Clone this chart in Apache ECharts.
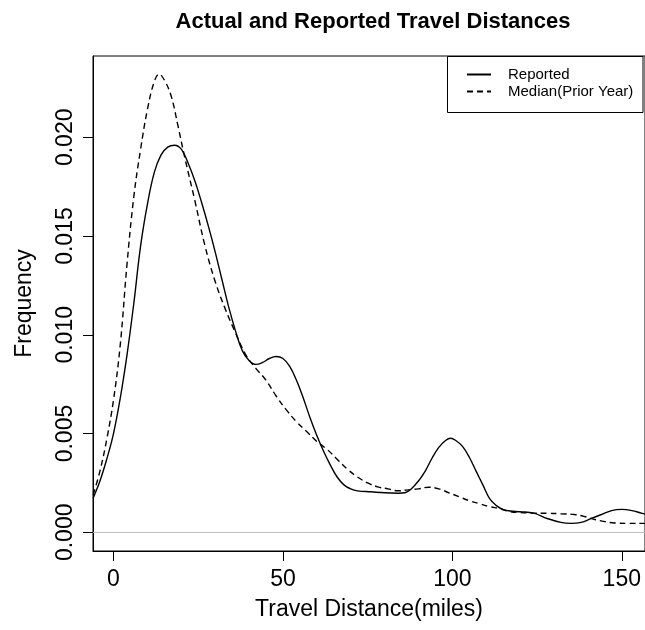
<!DOCTYPE html>
<html>
<head>
<meta charset="utf-8">
<script src="https://cdn.jsdelivr.net/npm/echarts@6/dist/echarts.min.js"></script>
<style>html,body{margin:0;padding:0;background:#fff}#c{width:645px;height:630px}</style>
</head>
<body>
<div id="c"></div>
<script>
const titleText = 'Actual and Reported Travel Distances';
const xName = 'Travel Distance(miles)';
const yName = 'Frequency';
const xTicks = [0, 50, 100, 150];
const yTicks = [0, 0.005, 0.010, 0.015, 0.020];
const seriesNames = ['Reported', 'Median(Prior Year)'];

const reportedX = [-6,-4,-2,0,2,4,6,8,10,12,14,16,18,20,22,24,26,28,30,32,34,36,38,40,42,44,46,48,50,52,54,56,58,60,62,64,66,68,70,72,76,80,84,86,88,90,92,94,96,98,99.5,101,103,105,107,109,111,113,115,117,120,124,128,132,135,138,141,144,147,150,153,156,158];
const reportedY = [0.00174,0.0026,0.0037,0.0050,0.0068,0.0090,0.0116,0.0145,0.0166,0.0182,0.0191,0.0195,0.0196,0.0194,0.0187,0.0178,0.0167,0.0155,0.0142,0.0128,0.0114,0.0102,0.0092,0.0087,0.0085,0.0086,0.0088,0.0089,0.0088,0.0084,0.0077,0.0068,0.0058,0.0049,0.0041,0.0034,0.0028,0.0024,0.0022,0.0021,0.00205,0.0020,0.00198,0.0020,0.00222,0.0026,0.0031,0.00375,0.0043,0.00465,0.00476,0.00465,0.00435,0.0038,0.0031,0.0024,0.0017,0.00135,0.00115,0.00108,0.00104,0.00097,0.0007,0.0005,0.00045,0.0005,0.0007,0.0009,0.0011,0.00116,0.0011,0.00096,0.0009];

const medianX = [-6,-4,-2,0,2,4,6,8,10,12,13.5,15,17,19,21,24,27,30,33,36,39,42,45,48,51,54,57,60,63,66,69,72,75,78,81,84,87,90,93,96,99,102,105,108,111,114,117,120,124,128,132,136,139,142,145,148,152,156,158];
const medianY = [0.0019,0.0031,0.0047,0.0067,0.0095,0.0136,0.0170,0.0194,0.0214,0.0228,0.0232,0.0229,0.0221,0.0206,0.0190,0.0168,0.0145,0.0127,0.0113,0.0101,0.0090,0.0083,0.0077,0.0069,0.0062,0.0056,0.0051,0.0046,0.0042,0.0037,0.0032,0.0028,0.0025,0.0023,0.0022,0.0021,0.00215,0.0022,0.00228,0.0022,0.0020,0.0018,0.0016,0.00145,0.0013,0.0012,0.00105,0.0010,0.00097,0.00096,0.00094,0.0009,0.0008,0.00065,0.00054,0.00047,0.00045,0.00045,0.00045];

const FONT = 'Liberation Sans';
const chart = echarts.init(document.getElementById('c'), null, {renderer: 'canvas'});
const pairs = (xs, ys) => xs.map((x, i) => [x, ys[i]]);

chart.setOption({
  animation: false,
  backgroundColor: '#fff',
  title: {
    text: titleText, left: 368, top: 6, textAlign: 'center',
    textStyle: {fontFamily: FONT, fontWeight: 'bold', fontSize: 22, color: '#000'}
  },
  grid: {left: 93, top: 56, width: 555, height: 495, show: true, borderColor: '#000', borderWidth: 1, containLabel: false},
  legend: {
    orient: 'vertical', left: 461, top: 62, itemWidth: 24, itemHeight: 12, itemGap: 2,
    data: seriesNames,
    itemStyle: {opacity: 0, borderWidth: 0},
    textStyle: {fontFamily: FONT, fontSize: 15, color: '#000', padding: [0, 0, 0, 12]}
  },
  graphic: [{type: 'rect', shape: {x: 447.5, y: 56.5, width: 195.5, height: 56}, style: {fill: 'none', stroke: '#000', lineWidth: 1}, z: 100, silent: true}],
  xAxis: {
    type: 'value', min: -6.05, max: 156.85,
    name: xName, nameLocation: 'middle', nameGap: 47,
    nameTextStyle: {fontFamily: FONT, fontSize: 23, color: '#000'},
    axisLine: {show: true, onZero: false, lineStyle: {color: '#000', width: 1}},
    axisTick: {show: true, length: 10, lineStyle: {color: '#000'}, customValues: xTicks},
    axisLabel: {fontFamily: FONT, fontSize: 23, color: '#000', margin: 17, customValues: xTicks},
    splitLine: {show: false}
  },
  yAxis: {
    type: 'value', min: -0.000947, max: 0.024116,
    name: yName, nameLocation: 'middle', nameGap: 57, nameRotate: 90,
    nameTextStyle: {fontFamily: FONT, fontSize: 23, color: '#000'},
    axisLine: {show: true, onZero: false, lineStyle: {color: '#000', width: 1}},
    axisTick: {show: true, length: 10, lineStyle: {color: '#000'}, customValues: yTicks},
    axisLabel: {fontFamily: FONT, fontSize: 23, color: '#000', margin: 16, rotate: 90,
      customValues: yTicks, formatter: v => v.toFixed(3)},
    splitLine: {show: false}
  },
  series: [
    {
      name: seriesNames[0], type: 'line', data: pairs(reportedX, reportedY),
      symbol: 'none', smooth: 0.4, clip: true,
      lineStyle: {color: '#000', width: 1.4, type: 'solid'},
      itemStyle: {color: '#000'},
      markLine: {silent: true, symbol: 'none', label: {show: false},
        lineStyle: {color: '#c0c0c0', width: 1, type: 'solid'}, data: [{yAxis: 0}]},
      z: 3
    },
    {
      name: seriesNames[1], type: 'line', data: pairs(medianX, medianY),
      symbol: 'none', smooth: 0.4, clip: true,
      lineStyle: {color: '#000', width: 1.4, type: [6, 4]},
      itemStyle: {color: '#000'},
      z: 2
    }
  ]
});
</script>
</body>
</html>
